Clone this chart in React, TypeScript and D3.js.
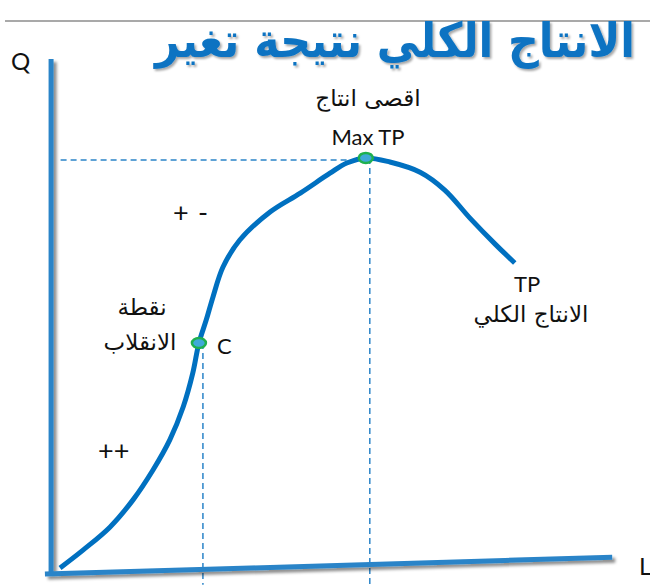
import React, { useLayoutEffect, useRef, useState } from "react";
import * as d3 from "d3";

// total product curve (L, Q in chart units)
const curveL = [0.09, 0.5, 0.98, 1.39, 1.75, 2.05, 2.29, 2.46, 2.57, 2.7, 2.82, 3.0, 3.3, 3.84, 4.38, 4.91, 5.21, 5.55, 5.98, 6.52, 6.96, 7.41, 7.86, 8.21];
const curveQ = [0.04, 0.39, 0.84, 1.37, 1.96, 2.55, 3.2, 3.86, 4.45, 4.9, 5.35, 5.94, 6.47, 7.02, 7.39, 7.78, 7.98, 8.08, 8.0, 7.8, 7.45, 6.9, 6.39, 6.02];

// hand-drawn axes
const yAxisL = [-0.07, -0.07];
const yAxisQ = [10.02, -0.1];
const xAxisL = [-0.18, 9.95];
const xAxisQ = [-0.08, 0.25];

// marked points: inflection C and max TP
const inflection = { L: 2.57, Q: 4.45 };
const maxTP = { L: 5.55, Q: 8.08 };

const title = "الانتاج الكلي نتيجة تغير";
const maxLabel = ["اقصى انتاج", "Max TP"];
const inflectionLabel = ["نقطة", "الانقلاب"];
const tpLabel = ["TP", "الانتاج الكلي"];

const W = 650;
const H = 585;
const TITLE_W = 480;

export default function App() {
  const titleRef = useRef<SVGTextElement>(null);
  const [sx, setSx] = useState(1);

  // squeeze the title horizontally to the width it has in the picture
  useLayoutEffect(() => {
    if (!titleRef.current) return;
    const w = titleRef.current.getComputedTextLength();
    if (w > 0) setSx(Math.min(1, TITLE_W / w));
  }, []);

  const x = d3.scaleLinear().domain([0, 10]).range([55, 615]);
  const y = d3.scaleLinear().domain([0, 10]).range([570, 60]);

  const pts: [number, number][] = curveL.map((l, i) => [l, curveQ[i]]);
  const line = d3
    .line<[number, number]>()
    .x(d => x(d[0]))
    .y(d => y(d[1]))
    .curve(d3.curveCatmullRom.alpha(0.5));

  const axisBlue = "#2a84c8";
  const curveBlue = "#0070c0";
  const arabic = "'DejaVu Sans', sans-serif";
  const latin = "Lato, 'Open Sans', sans-serif";

  return (
    <svg width={W} height={H} style={{ position: "absolute", left: 0, top: 0, background: "#fff" }}>
      <defs>
        <filter id="sh" x="-20%" y="-20%" width="140%" height="140%">
          <feDropShadow dx="3" dy="3" stdDeviation="1.5" floodColor="#000" floodOpacity="0.45" />
        </filter>
        <filter id="tsh" x="-10%" y="-20%" width="120%" height="150%">
          <feDropShadow dx="2" dy="2" stdDeviation="1.2" floodColor="#000" floodOpacity="0.35" />
        </filter>
      </defs>

      <line x1={5} x2={650} y1={21} y2={21} stroke="#8c8c8c" strokeWidth={1.5} />

      <g transform={`translate(395,57) scale(${sx},1)`}>
        <text
          ref={titleRef}
          x={0}
          y={0}
          textAnchor="middle"
          direction="rtl"
          fontFamily={arabic}
          fontWeight="bold"
          fontSize={48}
          fill="#0b73c2"
          filter="url(#tsh)"
        >
          {title}
        </text>
      </g>

      {/* dashed guides */}
      <g stroke={axisBlue} strokeWidth={1.5} strokeDasharray="6,4" fill="none">
        <line x1={x(0.1)} x2={x(maxTP.L)} y1={y(maxTP.Q) + 2} y2={y(maxTP.Q) + 2} />
        <line x1={x(maxTP.L) + 4} x2={x(maxTP.L) + 4} y1={y(maxTP.Q)} y2={y(-0.29)} />
        <line x1={x(inflection.L) + 4} x2={x(inflection.L) + 4} y1={y(inflection.Q)} y2={y(-0.29)} />
      </g>

      {/* axes */}
      <g filter="url(#sh)" stroke={axisBlue} strokeWidth={5} strokeLinecap="butt">
        <line x1={x(yAxisL[0])} x2={x(yAxisL[1])} y1={y(yAxisQ[0])} y2={y(yAxisQ[1])} />
        <line x1={x(xAxisL[0])} x2={x(xAxisL[1])} y1={y(xAxisQ[0])} y2={y(xAxisQ[1])} />
      </g>

      <path d={line(pts) ?? ""} fill="none" stroke={curveBlue} strokeWidth={5} />

      {/* markers */}
      {[inflection, maxTP].map((p, i) => (
        <ellipse
          key={i}
          cx={x(p.L)}
          cy={y(p.Q)}
          rx={7}
          ry={5}
          fill="#3fa9d8"
          stroke="#1fb04f"
          strokeWidth={2.5}
        />
      ))}

      <g fontFamily={latin} fontSize={22} fill="#111">
        <text x={11} y={70} fontSize={24}>Q</text>
        <text x={639} y={575} fontSize={24}>L</text>
        <text x={368} y={145} textAnchor="middle">{maxLabel[1]}</text>
        <text x={217} y={354}>C</text>
        <text x={527} y={292} textAnchor="middle">{tpLabel[0]}</text>
        <text x={98} y={460} fontSize={27}>++</text>
        <text x={173} y={222} fontSize={27}>+</text>
        <text x={198} y={222} fontSize={27}>-</text>
      </g>
      <g fontFamily={arabic} fontSize={23} fill="#111" direction="rtl">
        <text x={368} y={106} textAnchor="middle">{maxLabel[0]}</text>
        <text x={142} y={315} textAnchor="middle">{inflectionLabel[0]}</text>
        <text x={140} y={350} textAnchor="middle">{inflectionLabel[1]}</text>
        <text x={531} y={322} textAnchor="middle">{tpLabel[1]}</text>
      </g>
    </svg>
  );
}
